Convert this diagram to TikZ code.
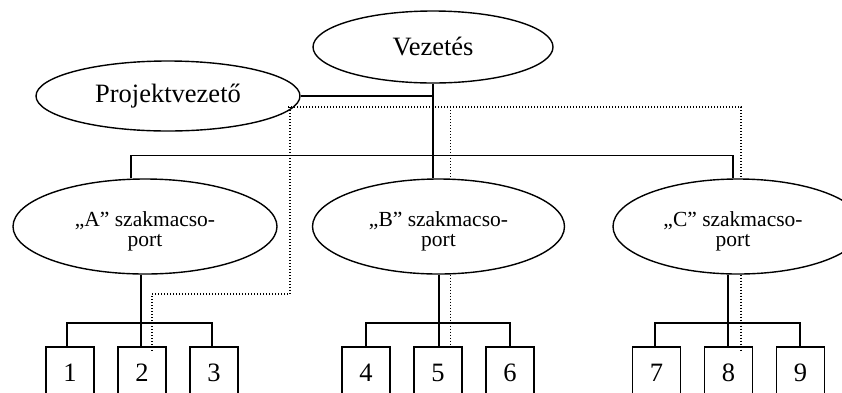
\documentclass[tikz,border=0pt]{standalone}
\usepackage{fontspec}
\setmainfont{Liberation Serif}
\usetikzlibrary{shapes.geometric}
\begin{document}
\begin{tikzpicture}[x=1pt,y=-1pt,
  oval/.style={draw, ellipse, line width=1.4pt, inner sep=0pt, align=center},
  topoval/.style={oval, font=\fontsize{26.5}{28}\selectfont},
  grpoval/.style={oval, minimum height=95pt},
  grptext/.style={align=center, inner sep=0pt, font=\fontsize{21.5}{20}\selectfont},
  numbox/.style={draw, line width=1.3pt, minimum width=48pt, minimum height=52pt, inner sep=0pt, font=\fontsize{26.5}{28}\selectfont},
  conn/.style={line width=1.3pt},
  dots/.style={line width=1.1pt, dash pattern=on 1pt off 2pt}]
\useasboundingbox (0,0) rectangle (842,392);
\clip (0,0) rectangle (842,392);
% main nodes
\node[topoval, minimum width=240pt, minimum height=72pt] (V) at (433,47) {\raisebox{1.5pt}{Vezetés}};
\node[topoval, minimum width=264pt, minimum height=70pt] (P) at (168,96) {\raisebox{1.5pt}{Projektvezető}};
\node[grpoval, minimum width=264pt] (A) at (145,226.5) {};
\node[grpoval, minimum width=252pt] (B) at (438.5,226.5) {};
\node[grpoval, minimum width=250pt] (C) at (738,226.5) {};
\node[grptext] (At) at ([yshift=-5pt]A.center) {„A” szakmacso-\\port};
\node[grptext] (Bt) at ([yshift=-5pt]B.center) {„B” szakmacso-\\port};
\node[grptext] (Ct) at ([xshift=-5pt,yshift=-5pt]C.center) {„C” szakmacso-\\port};
% boxes
\node[numbox] (b1) at (70,373) {1};
\node[numbox] (b2) at (142,373) {2};
\node[numbox] (b3) at (214,373) {3};
\node[numbox] (b4) at (366,373) {4};
\node[numbox] (b5) at (438,373) {5};
\node[numbox] (b6) at (510,373) {6};
\node[numbox] (b7) at (656.5,373) {7};
\node[numbox] (b8) at (728.5,373) {8};
\node[numbox] (b9) at (800.5,373) {9};
% bus coordinates
\coordinate (busL) at (131,155.5);
\coordinate (busR) at (733,155.5);
\coordinate (ja) at (141,323);
\coordinate (jb) at (439,323);
\coordinate (jc) at (728,323);
% solid connectors
\draw[conn] (V.south) -- (V.south |- B.north);
\draw[conn] (P.east) -- (P.east -| V.south);
\draw[conn] (busL |- A.north) -- (busL) -- (busR) -- (busR |- C.north);
% group A
\draw[conn] (A.south -| ja) -- (b2.north -| ja);
\draw[conn] ([xshift=-3pt]b1.north) |- (ja) -| ([xshift=-2pt]b3.north);
% group B
\draw[conn] (B.south -| jb) -- (b5.north -| jb);
\draw[conn] (b4.north) |- (jb) -| (b6.north);
% group C
\draw[conn] (C.south -| jc) -- (b8.north -| jc);
\draw[conn] ([xshift=-1.5pt]b7.north) |- (jc) -| ([xshift=-0.5pt]b9.north);
% dotted project lines
\coordinate (d0) at (288,107);
\coordinate (dA) at (290,107);
\coordinate (dB) at (450.5,107);
\coordinate (dC) at (741,107);
\coordinate (dA2) at (152,294);
\draw[dots] (d0) -- (dC) -- (dC |- C.north);
\draw[dots] (dB) -- (dB |- B.north);
\draw[dots] (dA) |- (dA2) -- ([yshift=-6pt]b2.north -| dA2);
\draw[dots] (B.south -| dB) -- ([yshift=-3pt]b5.north -| dB);
\draw[dots] (C.south -| dC) -- ([yshift=-4pt]b8.north -| dC);
\end{tikzpicture}
\end{document}
